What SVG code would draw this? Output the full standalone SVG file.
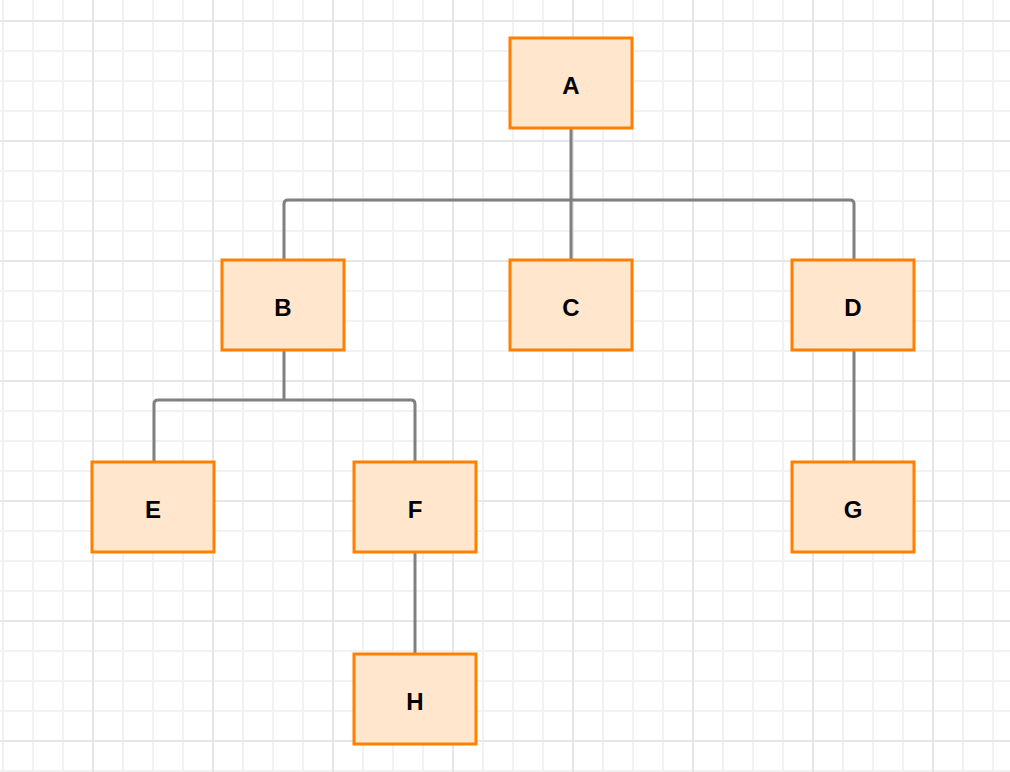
<svg xmlns="http://www.w3.org/2000/svg" width="1010" height="772" viewBox="0 0 1010 772">
<defs>
<pattern id="minor" x="2" y="20" width="30" height="30" patternUnits="userSpaceOnUse">
<path d="M0 1H30M1 0V30" fill="none" stroke="#f2f2f2" stroke-width="2"/>
</pattern>
<pattern id="major" x="92" y="20" width="120" height="120" patternUnits="userSpaceOnUse">
<path d="M0 1H120M1 0V120" fill="none" stroke="#e6e6e6" stroke-width="2"/>
</pattern>
</defs>
<style>
.node rect{fill:#ffe6cc;stroke:#ff8000;stroke-width:3}
.node text{font-family:"Liberation Sans",Arial,sans-serif;font-weight:bold;font-size:24px;text-anchor:middle;fill:#000}
.edge{fill:none;stroke:#808080;stroke-width:3;stroke-linejoin:round}
</style>
<rect width="1010" height="772" fill="#ffffff"/>
<rect width="1010" height="772" fill="url(#minor)"/>
<rect width="1010" height="772" fill="url(#major)"/>
<g id="connectors">
<path class="edge" d="M571 128V200"/>
<path class="edge" d="M284 260V204Q284 200 288 200H850Q854 200 854 204V260"/>
<path class="edge" d="M571 200V260"/>
<path class="edge" d="M284 350V400"/>
<path class="edge" d="M154 462V404Q154 400 158 400H411Q415 400 415 404V462"/>
<path class="edge" d="M854 350V462"/>
<path class="edge" d="M415 552V654"/>
</g>
<g id="A" class="node"><rect x="510" y="38" width="122" height="90"/><text x="571" y="94">A</text></g>
<g id="B" class="node"><rect x="222" y="260" width="122" height="90"/><text x="283" y="316">B</text></g>
<g id="C" class="node"><rect x="510" y="260" width="122" height="90"/><text x="571" y="316">C</text></g>
<g id="D" class="node"><rect x="792" y="260" width="122" height="90"/><text x="853" y="316">D</text></g>
<g id="E" class="node"><rect x="92" y="462" width="122" height="90"/><text x="153" y="518">E</text></g>
<g id="F" class="node"><rect x="354" y="462" width="122" height="90"/><text x="415" y="518">F</text></g>
<g id="G" class="node"><rect x="792" y="462" width="122" height="90"/><text x="853" y="518">G</text></g>
<g id="H" class="node"><rect x="354" y="654" width="122" height="90"/><text x="415" y="710">H</text></g>
</svg>
